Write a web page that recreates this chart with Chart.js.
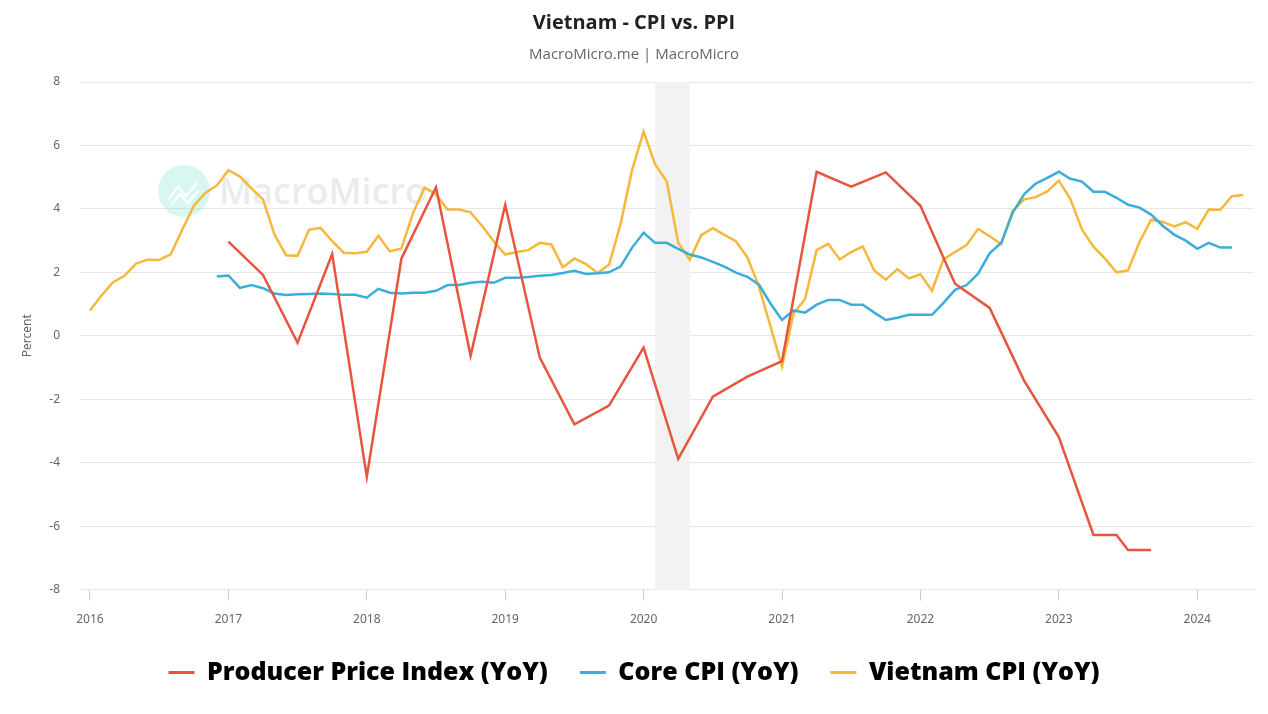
<!DOCTYPE html>
<html>
<head>
<meta charset="utf-8">
<title>Vietnam - CPI vs. PPI</title>
<script src="https://cdn.jsdelivr.net/npm/chart.js@4.4.1/dist/chart.umd.min.js"></script>
<style>
  html, body { margin: 0; padding: 0; background: #fff; }
  #wrap { width: 1268px; height: 714px; }
</style>
</head>
<body>
<div id="wrap"><canvas id="cpiPpiChart"></canvas></div>
<script>
// Vietnam CPI (YoY), monthly from 2016-01
const cpiStart = '2016-01';
const cpiValues = [
    0.80, 1.27, 1.69, 1.89, 2.28, 2.40, 2.39, 2.57, 3.34, 4.09, 4.50, 4.74,
    5.22, 5.02, 4.65, 4.30, 3.19, 2.54, 2.52, 3.35, 3.40, 2.98, 2.62, 2.60,
    2.65, 3.15, 2.66, 2.75, 3.86, 4.67, 4.46, 3.98, 3.98, 3.89, 3.46, 2.98,
    2.56, 2.64, 2.70, 2.93, 2.88, 2.16, 2.44, 2.26, 1.98, 2.24, 3.52, 5.23,
    6.43, 5.40, 4.87, 2.93, 2.40, 3.17, 3.39, 3.18, 2.98, 2.47, 1.55, 0.30,
    -0.97, 0.70, 1.16, 2.70, 2.90, 2.41, 2.64, 2.82, 2.06, 1.77, 2.10, 1.81,
    1.94, 1.42, 2.41, 2.64, 2.86, 3.37, 3.14, 2.89, 3.94, 4.30, 4.37, 4.55,
    4.89, 4.31, 3.35, 2.81, 2.43, 2.00, 2.06, 2.96, 3.66, 3.59, 3.45, 3.58,
    3.37, 3.98, 3.97, 4.40, 4.44
];

// Core CPI (YoY), monthly from 2016-12
const coreStart = '2016-12';
const coreValues = [
    1.87,
    1.90, 1.51, 1.60, 1.50, 1.33, 1.29, 1.31, 1.32, 1.33, 1.32, 1.29, 1.29,
    1.20, 1.48, 1.36, 1.33, 1.36, 1.36, 1.42, 1.60, 1.60, 1.67, 1.70, 1.67,
    1.83, 1.83, 1.85, 1.89, 1.92, 1.98, 2.05, 1.95, 1.97, 2.00, 2.18, 2.78,
    3.25, 2.93, 2.93, 2.74, 2.56, 2.47, 2.33, 2.18, 1.99, 1.86, 1.61, 1.02,
    0.50, 0.80, 0.73, 0.98, 1.13, 1.13, 0.98, 0.98, 0.73, 0.50, 0.57, 0.66,
    0.66, 0.66, 1.04, 1.45, 1.60, 1.96, 2.60, 2.93, 3.88, 4.47, 4.80, 4.98,
    5.17, 4.95, 4.86, 4.54, 4.54, 4.35, 4.13, 4.04, 3.82, 3.47, 3.19, 3.00,
    2.74, 2.93, 2.78, 2.78
];

// Producer Price Index (YoY), quarterly points
const ppiMonths = [
    '2017-01', '2017-04', '2017-07', '2017-10',
    '2018-01', '2018-04', '2018-07', '2018-10',
    '2019-01', '2019-04', '2019-07', '2019-10',
    '2020-01', '2020-04', '2020-07', '2020-10',
    '2021-01', '2021-04', '2021-07', '2021-10',
    '2022-01', '2022-04', '2022-07', '2022-10',
    '2023-01', '2023-04', '2023-06', '2023-07', '2023-09'
];
const ppiValues = [
    2.97, 1.92, -0.22, 2.58,
    -4.45, 2.43, 4.68, -0.63,
    4.13, -0.69, -2.79, -2.20,
    -0.37, -3.88, -1.92, -1.29,
    -0.80, 5.17, 4.70, 5.15,
    4.10, 1.64, 0.88, -1.42,
    -3.19, -6.28, -6.28, -6.75, -6.75
];

const xTickLabels = [2016, 2017, 2018, 2019, 2020, 2021, 2022, 2023, 2024];
const yTickLabels = [-8, -6, -4, -2, 0, 2, 4, 6, 8];

// shaded recession band
const recessionFrom = '2020-02';
const recessionTo = '2020-05';

function monthToYear(m) {
    const parts = m.split('-');
    return Number(parts[0]) + (Number(parts[1]) - 1) / 12;
}

function monthlyPoints(start, values) {
    const s = monthToYear(start);
    return values.map(function(v, i) {
        return { x: s + i / 12, y: v };
    });
}

const shadePlugin = {
    id: 'shade',
    beforeDatasetsDraw: function(chart) {
        const ctx = chart.ctx;
        const area = chart.chartArea;
        const xs = chart.scales.x;
        const x1 = xs.getPixelForValue(monthToYear(recessionFrom));
        const x2 = xs.getPixelForValue(monthToYear(recessionTo));
        ctx.save();
        ctx.fillStyle = '#f2f2f2';
        ctx.fillRect(x1, area.top, x2 - x1, area.bottom - area.top);

        // watermark
        ctx.fillStyle = 'rgba(110, 228, 200, 0.28)';
        ctx.beginPath();
        ctx.arc(184, 191, 26, 0, Math.PI * 2);
        ctx.fill();
        ctx.strokeStyle = 'rgba(255,255,255,0.9)';
        ctx.lineWidth = 2.5;
        ctx.beginPath();
        ctx.moveTo(168, 200); ctx.lineTo(178, 187); ctx.lineTo(186, 196); ctx.lineTo(197, 183);
        ctx.moveTo(171, 205); ctx.lineTo(180, 194); ctx.lineTo(188, 203); ctx.lineTo(198, 191);
        ctx.stroke();
        ctx.fillStyle = 'rgba(215, 218, 222, 0.55)';
        ctx.font = '600 36px "Open Sans"';
        ctx.textBaseline = 'alphabetic';
        ctx.fillText('MacroMicro', 219, 204);
        ctx.restore();
    }
};

document.addEventListener('DOMContentLoaded', function() {

    const ctx = document.getElementById('cpiPpiChart');

    new Chart(ctx, {
        type: 'line',
        data: {
            datasets: [
                {
                    label: 'Producer Price Index (YoY)',
                    data: ppiMonths.map(function(m, i) { return { x: monthToYear(m), y: ppiValues[i] }; }),
                    borderColor: '#e8553e',
                    backgroundColor: '#e8553e',
                    borderWidth: 2.5,
                    pointRadius: 0,
                    tension: 0
                },
                {
                    label: 'Core CPI (YoY)',
                    data: monthlyPoints(coreStart, coreValues),
                    borderColor: '#3aaed8',
                    backgroundColor: '#3aaed8',
                    borderWidth: 2.5,
                    pointRadius: 0,
                    tension: 0
                },
                {
                    label: 'Vietnam CPI (YoY)',
                    data: monthlyPoints(cpiStart, cpiValues),
                    borderColor: '#f5b83d',
                    backgroundColor: '#f5b83d',
                    borderWidth: 2.5,
                    pointRadius: 0,
                    tension: 0
                }
            ]
        },
        options: {
            responsive: true,
            maintainAspectRatio: false,
            animation: false,
            layout: {
                padding: { left: 14, right: 14, top: 0, bottom: 19 }
            },
            plugins: {
                title: {
                    display: true,
                    text: 'Vietnam - CPI vs. PPI',
                    color: '#222',
                    font: { family: '"Open Sans"', size: 20, weight: 'bold' },
                    padding: { top: 11, bottom: 9 }
                },
                subtitle: {
                    display: true,
                    text: 'MacroMicro.me | MacroMicro',
                    color: '#666',
                    font: { family: '"Open Sans"', size: 15 },
                    padding: { top: 2, bottom: 18 }
                },
                legend: {
                    position: 'bottom',
                    labels: {
                        color: '#000',
                        font: { family: '"Open Sans"', size: 25, weight: '800' },
                        boxWidth: 26,
                        boxHeight: 3,
                        padding: 32,
                        generateLabels: function(chart) {
                            return Chart.defaults.plugins.legend.labels.generateLabels(chart).map(function(item) {
                                item.lineWidth = 0;
                                return item;
                            });
                        }
                    }
                },
                tooltip: { enabled: false }
            },
            scales: {
                x: {
                    type: 'linear',
                    min: 2015.928,
                    max: 2024.41,
                    afterBuildTicks: function(scale) {
                        scale.ticks = xTickLabels.map(function(v) { return { value: v }; });
                    },
                    afterFit: function(scale) {
                        scale.height = scale.height - 11;
                    },
                    ticks: {
                        color: '#666',
                        font: { family: '"Noto Sans"', size: 12 },
                        padding: 12,
                        maxRotation: 0,
                        callback: function(value) { return String(value); }
                    },
                    grid: {
                        drawOnChartArea: false,
                        drawTicks: true,
                        tickLength: 11,
                        color: '#cccccc'
                    },
                    border: { display: true, color: '#e6e6e6' }
                },
                y: {
                    min: -8,
                    max: 8,
                    afterBuildTicks: function(scale) {
                        scale.ticks = yTickLabels.map(function(v) { return { value: v }; });
                    },
                    afterFit: function(scale) {
                        scale.width = 66;
                    },
                    ticks: {
                        color: '#666',
                        font: { family: '"Noto Sans"', size: 12 },
                        padding: 20
                    },
                    grid: {
                        drawTicks: false,
                        color: '#e6e6e6'
                    },
                    border: { display: false },
                    title: {
                        display: true,
                        text: 'Percent',
                        color: '#666',
                        font: { family: '"Noto Sans"', size: 12 },
                        padding: { top: 6, bottom: 0 }
                    }
                }
            }
        },
        plugins: [shadePlugin]
    });
});
</script>
</body>
</html>
